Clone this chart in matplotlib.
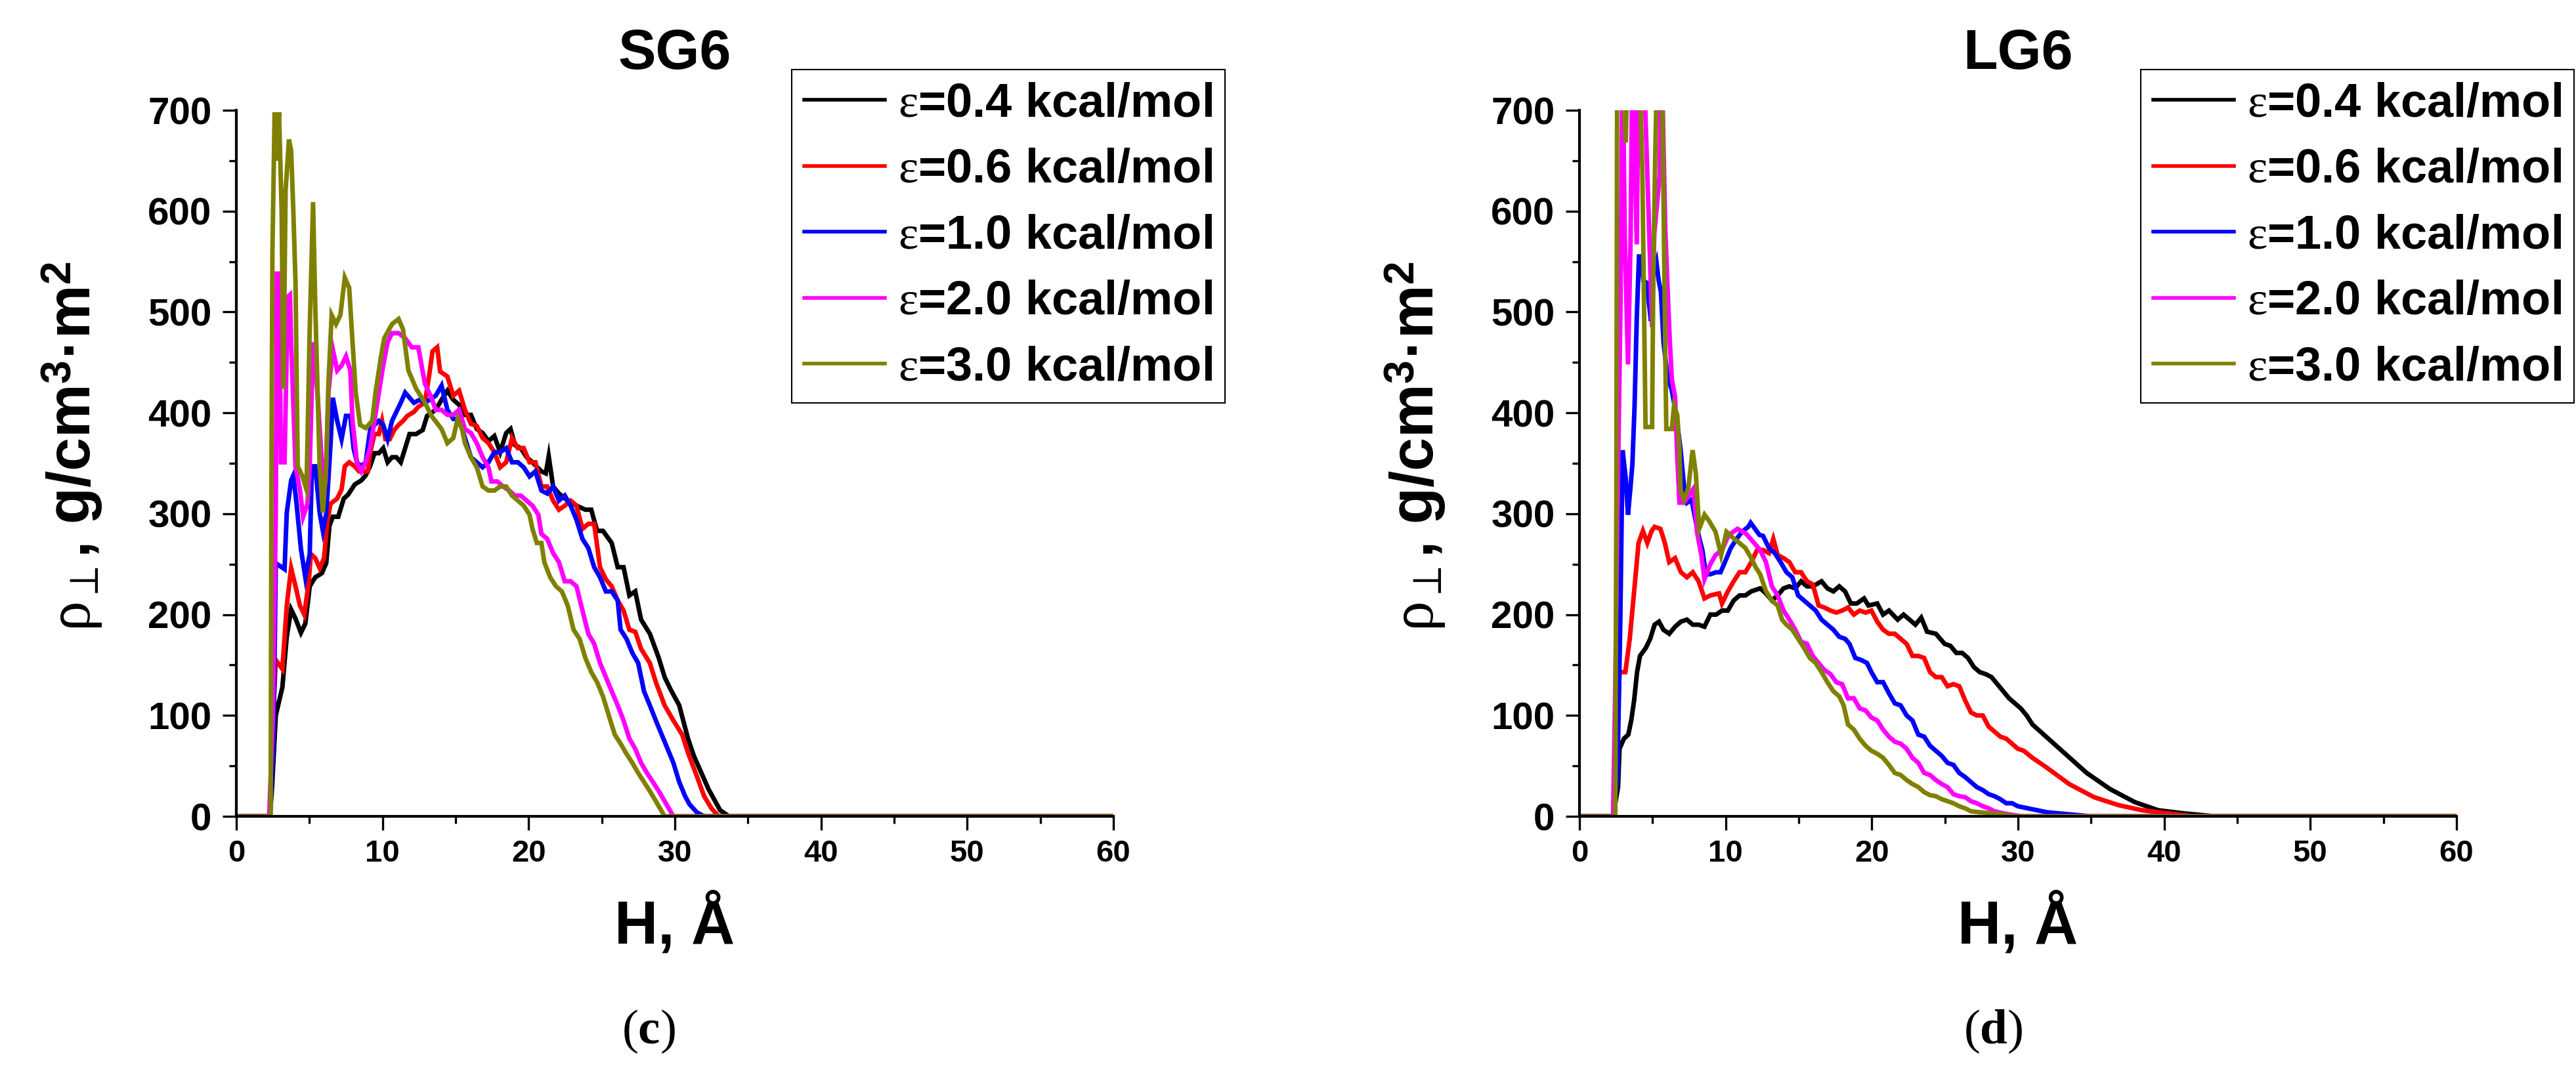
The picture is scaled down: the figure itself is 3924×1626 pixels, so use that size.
import matplotlib
matplotlib.use("Agg")
import matplotlib.pyplot as plt
from matplotlib.ticker import MultipleLocator

plt.rcParams['mathtext.fontset'] = 'custom'
plt.rcParams['mathtext.rm'] = 'Liberation Sans:bold'
plt.rcParams['mathtext.it'] = 'Liberation Serif'
plt.rcParams['mathtext.bf'] = 'Liberation Serif:bold'
plt.rcParams['font.family'] = ['Liberation Sans', 'DejaVu Sans']

# ---------------- data: SG6 (panel c) ----------------
sg6_h_04 = [0, 2.3, 2.45, 2.70, 3.15, 3.45, 3.75, 4.05, 4.42, 4.72, 5.02, 5.40, 5.85, 6.15, 6.37, 6.60, 6.97, 7.35, 7.65, 8.10,
            8.55, 8.85, 9.15, 9.45, 9.75, 10.05, 10.35, 10.65, 10.95, 11.25, 11.55, 11.85, 12.30, 12.75, 13.05, 13.64,
            14.04, 14.44, 14.84, 15.24, 15.64, 16.05, 16.45, 16.85, 17.25, 17.65, 18.05, 18.46, 18.76, 19.06, 19.46, 19.86,
            20.26, 20.87, 21.17, 21.37, 21.67, 22.07, 22.67, 23.27, 23.88, 24.28, 24.68, 25.08, 25.68, 26.09, 26.49, 26.89,
            27.29, 27.69, 28.29, 28.90, 29.30, 29.70, 30.30, 30.90, 31.3, 32.3, 33.1, 33.7, 60]
sg6_v_04 = [0, 0, 30, 100, 128, 178, 205, 196, 182, 191, 228, 237, 241, 251, 288, 297, 297, 315, 319, 329,
            333, 338, 347, 360, 360, 365, 351, 356, 356, 351, 365, 379, 379, 383, 397, 403,
            413, 422, 413, 408, 398, 398, 384, 380, 372, 377, 361, 380, 384, 368, 365, 356,
            351, 342, 340, 357, 327, 320, 313, 308, 304, 304, 283, 283, 271, 247, 247, 219,
            223, 195, 181, 157, 138, 126, 110, 77, 60, 27, 6, 0, 0]

sg6_h_06 = [0, 2.3, 2.40, 2.55, 2.70, 3.15, 3.45, 3.75, 4.05, 4.35, 4.65, 4.95, 5.10, 5.40, 5.70, 6.0, 6.22, 6.45, 6.90, 7.20,
            7.42, 7.72, 8.10, 8.40, 9.0, 9.15, 9.45, 9.75, 9.97, 10.20, 10.50, 10.80, 11.10, 11.40, 11.70, 12.15, 12.45,
            12.90, 13.20, 13.42, 13.74, 13.94, 14.44, 14.84,
            15.24, 15.64, 16.05, 16.45, 16.85, 17.25, 17.65, 18.05, 18.46, 18.86, 19.26, 19.66, 20.06, 20.46, 20.87, 21.27,
            21.67, 22.07, 22.47, 22.87, 23.27, 23.68, 24.08, 24.48, 24.88, 25.28, 25.68, 26.09, 26.49, 26.89, 27.29, 27.69,
            28.29, 28.70, 29.30, 29.90, 30.50, 30.90, 31.5, 32.0, 32.5, 33.0, 60]
sg6_v_06 = [0, 0, 40, 110, 155, 146, 209, 246, 228, 209, 200, 232, 260, 256, 246, 256, 292, 310, 315, 324,
            347, 351, 347, 342, 342, 360, 379, 379, 392, 374, 374, 383, 388, 392, 397, 401, 406,
            410, 438, 461, 465, 441, 436, 417,
            422, 403, 389, 387, 375, 370, 361, 346, 351, 375, 365, 365, 351, 351, 327, 327,
            313, 304, 308, 313, 308, 285, 290, 290, 247, 235, 228, 214, 204, 185, 183, 166,
            152, 133, 110, 95, 81, 63, 40, 20, 8, 0, 0]

sg6_h_10 = [0, 2.3, 2.55, 2.70, 3.30, 3.45, 3.75, 3.90, 4.12, 4.42, 4.72, 5.02, 5.17, 5.40, 5.70, 5.92, 6.15, 6.45, 6.60, 6.90,
            7.20, 7.50, 7.80, 8.02, 8.25, 8.55, 8.85, 9.15, 9.45, 9.75, 10.05, 10.35, 10.65, 10.95, 11.25, 11.55, 11.85,
            12.15, 12.55, 12.90, 13.23,
            13.64, 14.04, 14.44, 14.84, 15.24, 15.64, 16.05, 16.45, 16.85, 17.25, 17.65, 18.05, 18.46, 18.86, 19.26, 19.66,
            20.06, 20.46, 20.87, 21.27, 21.67, 22.07, 22.47, 22.87, 23.27, 23.68, 24.08, 24.48, 24.88, 25.28, 25.68, 26.09,
            26.29, 26.69, 27.09, 27.49, 27.89, 28.29, 28.70, 29.10, 29.50, 29.90, 30.30, 30.70, 31.0, 31.5, 32.0, 60]
sg6_v_10 = [0, 0, 80, 251, 245, 301, 333, 338, 310, 265, 237, 260, 347, 347, 301, 283, 300, 370, 415, 392,
            374, 397, 397, 365, 351, 347, 351, 383, 388, 392, 388, 374, 392, 401, 410, 420, 415,
            410, 413, 410, 413,
            417, 427, 403, 394, 394, 375, 356, 351, 346, 351, 361, 361, 365, 351, 351, 346,
            337, 342, 323, 320, 327, 313, 318, 308, 294, 275, 266, 247, 237, 223, 223, 214,
            185, 176, 162, 152, 124, 110, 95, 81, 67, 53, 34, 20, 12, 4, 0, 0]

sg6_h_20 = [0, 2.25, 2.5, 2.70, 2.77, 2.92, 3.05, 3.30, 3.52, 3.67, 3.75, 4.05, 4.35, 4.57, 4.87, 5.02, 5.25, 5.55, 5.85, 6.1,
            6.30, 6.60, 6.90, 7.20, 7.50, 7.80, 7.95, 8.25, 8.55, 8.85, 9.15, 9.45, 9.75, 10.05, 10.35, 10.65, 11.10, 11.55,
            12.00, 12.45, 12.90, 13.35,
            13.64, 14.04, 14.44, 14.84, 15.24, 15.64, 16.05, 16.45, 16.85, 17.25,
            17.45, 17.85, 18.25, 18.66, 19.06, 19.46, 19.86, 20.26, 20.66, 20.87, 21.27, 21.67, 22.07, 22.47, 22.87, 23.27,
            23.68, 24.08, 24.48, 24.88, 25.28, 25.68, 26.09, 26.49, 26.89, 27.29, 27.69, 28.09, 28.50, 28.90, 29.30, 29.70,
            29.90, 60]
sg6_v_20 = [0, 0, 100, 300, 538, 538, 351, 351, 515, 517, 470, 347, 324, 297, 310, 347, 470, 420, 350, 330,
            420, 463, 442, 447, 456, 442, 392, 351, 342, 351, 365, 392, 420, 447, 470, 479, 479, 474,
            465, 465, 429, 415,
            403, 403, 398, 398, 403, 384, 380, 370, 356, 346,
            332, 332, 327, 323, 318, 318, 313, 308, 299, 280, 275, 261, 252, 233, 233, 228,
            204, 181, 171, 152, 138, 124, 110, 95, 77, 67, 53, 43, 34, 25, 15, 5,
            0, 0]

sg6_h_30 = [0, 2.35, 2.40, 2.47, 2.62, 2.80, 2.92, 3.10, 3.22, 3.37, 3.60, 3.75, 3.90, 4.05, 4.20, 4.50, 4.80, 5.02, 5.25, 5.40,
            5.70, 5.92, 6.15, 6.30, 6.52, 6.82, 7.12, 7.42, 7.72, 7.95, 8.17, 8.47, 8.85, 9.30, 9.52, 9.90, 10.12, 10.65,
            11.10, 11.40, 11.77, 12.30, 12.90, 13.35, 14.04, 14.44, 14.84, 15.14, 15.44, 15.64,
            16.05, 16.45, 16.85, 17.25, 17.65, 18.05, 18.46, 18.86, 19.26, 19.66, 20.06, 20.26, 20.56, 20.87, 21.07, 21.47,
            21.87, 22.27, 22.67, 23.07, 23.48, 23.88, 24.28, 24.68, 25.08, 25.48, 25.89, 26.29, 26.69, 27.09, 27.49, 27.89,
            28.29, 28.70, 29.10, 29.30, 60]
sg6_v_30 = [0, 0, 324, 561, 698, 650, 698, 600, 424, 620, 671, 660, 600, 529, 347, 338, 324, 483, 609, 506,
            347, 301, 347, 429, 497, 488, 497, 534, 524, 470, 420, 388, 385, 392, 420, 456, 474, 488,
            493, 483, 442, 424, 410, 397, 384, 370, 375, 394, 384, 370,
            356, 346, 327, 323, 323, 327, 327, 318, 313, 308, 299, 285, 271, 271, 252, 237,
            228, 223, 209, 185, 176, 157, 143, 133, 119, 100, 81, 72, 62, 53, 43, 34,
            25, 15, 5, 0, 0]

# ---------------- data: LG6 (panel d) ----------------
lg6_h_04 = [0, 2.3, 2.64, 2.74, 3.04, 3.34, 3.54, 3.74, 3.94, 4.14, 4.54, 4.84, 5.14, 5.44, 5.74, 6.14, 6.54, 6.94, 7.35, 7.75,
            8.15, 8.55, 8.95, 9.35, 9.75, 10.15, 10.55, 10.95, 11.35, 11.75, 12.36, 12.76, 13.16, 13.56, 13.96, 14.36, 14.76,
            15.16, 15.56, 15.96, 16.56, 16.96, 17.37, 17.77, 18.17, 18.57, 18.97, 19.47, 19.77, 20.37, 20.77, 21.17, 21.77,
            22.17, 22.58, 22.98, 23.38, 23.78, 24.38, 24.98, 25.38, 25.78, 26.18, 26.58, 26.98, 27.38, 27.79, 28.19, 28.59,
            28.99, 29.39, 29.79, 30.19, 30.59, 30.99, 33.0, 34.7, 36.3, 38.0, 39.6, 41.3, 43.5, 60]
lg6_v_04 = [0, 0, 29, 67, 77, 81, 95, 115, 143, 159, 167, 176, 190, 193, 185, 181, 188, 193, 195, 190,
            190, 188, 200, 200, 204, 204, 214, 219, 219, 223, 226, 221, 214, 219, 226, 228, 226,
            233, 228, 228, 233, 226, 223, 228, 223, 211, 211, 216, 209, 211, 200, 204, 195,
            200, 195, 190, 197, 183, 181, 171, 169, 162, 162, 157, 148, 143, 141, 138, 131,
            124, 117, 112, 107, 100, 91, 65, 43, 27, 14, 6, 3, 0, 0]

lg6_h_06 = [0, 2.3, 2.54, 2.74, 3.14, 3.44, 3.74, 4.04, 4.34, 4.64, 4.94, 5.14, 5.54, 5.84, 6.14, 6.54, 6.94, 7.35, 7.75, 8.15,
            8.55, 8.95, 9.55, 9.75, 10.15, 10.55, 10.95, 11.35, 11.75, 12.15, 12.56, 12.96, 13.26, 13.56, 13.96, 14.36, 14.76,
            15.16, 15.56, 15.96, 16.36, 16.76, 17.17, 17.57, 17.97, 18.37, 18.77, 19.17, 19.57, 19.97, 20.37, 20.77, 21.17,
            21.57, 21.97, 22.38, 22.78, 23.18, 23.58, 23.98, 24.38, 24.78, 25.18, 25.58, 25.98, 26.38, 26.78, 27.18, 27.59,
            27.99, 28.39, 28.79, 29.19, 29.59, 29.99, 30.39, 30.99, 31.9, 33.5, 35.2, 36.9, 38.5, 40.2, 42.0, 60]
lg6_v_06 = [0, 0, 60, 143, 143, 176, 223, 271, 283, 271, 283, 287, 285, 271, 252, 256, 242, 237, 242, 233,
            216, 219, 221, 211, 223, 233, 242, 242, 252, 264, 264, 261, 275, 259, 256, 252, 242,
            242, 233, 230, 209, 207, 204, 202, 204, 207, 200, 204, 202, 204, 193, 185, 181,
            181, 176, 171, 159, 159, 157, 143, 138, 138, 129, 131, 129, 115, 103, 100, 100,
            89, 84, 79, 77, 72, 67, 65, 58, 49, 32, 19, 11, 6, 3, 0, 0]

lg6_h_10 = [0, 2.3, 2.6, 2.8, 2.95, 3.17, 3.32, 3.47, 3.62, 3.77, 3.92, 4.07, 4.22, 4.37, 4.60, 4.75, 4.89, 5.05, 5.27, 5.42,
            5.57, 5.75, 6.02, 6.32, 6.62, 6.92, 7.14, 7.37, 7.67, 7.89, 8.19, 8.41, 8.65, 8.95, 9.35, 9.65, 9.95, 10.35,
            10.75, 11.11, 11.55, 11.71, 12.31, 12.56, 12.96, 13.36, 13.76, 14.16, 14.56, 14.96, 15.36, 15.76, 16.16, 16.56,
            16.96, 17.37,
            17.77, 18.17, 18.47, 18.87, 19.27, 19.67, 19.97, 20.37, 20.77, 21.17, 21.57, 21.97, 22.38, 22.78, 23.18, 23.58,
            23.98, 24.38, 24.78, 25.18, 25.58, 25.98, 26.38, 26.78, 27.18, 27.59, 27.99, 28.39, 28.79, 29.19, 29.59, 29.99,
            30.99, 32.0, 33.5, 35.0, 60]
lg6_v_10 = [0, 0, 40, 200, 363, 334, 299, 323, 349, 407, 494, 555, 555, 531, 529, 509, 491, 537, 549, 531,
            520, 470, 436, 422, 398, 363, 329, 311, 314, 297, 276, 264, 240, 240, 242, 242, 252, 266,
            275, 282, 287, 291, 279, 278, 266, 261, 252, 242, 237, 219, 214, 209, 204, 195,
            190, 185,
            178, 176, 171, 157, 155, 152, 143, 133, 133, 122, 112, 110, 100, 95, 81, 79,
            70, 65, 60, 53, 51, 43, 39, 34, 29, 26, 22, 20, 17, 13, 13, 10,
            7, 4, 2, 0, 0]

lg6_h_20 = [0, 2.3, 2.45, 2.6, 2.80, 2.95, 3.10, 3.32, 3.50, 3.62, 3.92, 4.05, 4.37, 4.67, 4.97, 5.12, 5.49, 5.57, 5.70, 5.87,
            6.02, 6.17, 6.32, 6.54, 6.69, 6.84, 7.14, 7.44, 7.81, 8.04, 8.34, 8.55, 8.95, 9.31, 9.75, 10.21, 10.81, 11.41,
            12.01, 12.36, 12.76, 13.16, 13.56, 13.96, 14.36, 14.76, 15.16, 15.56, 15.96, 16.36,
            16.76, 17.17, 17.57, 17.97, 18.37, 18.77, 19.17, 19.57, 19.97, 20.37, 20.77, 21.17, 21.57, 21.97, 22.38, 22.78,
            23.18, 23.58, 23.98, 24.38, 24.78, 25.18, 25.58, 25.98, 26.38, 26.78, 27.18, 27.59, 27.99, 28.39, 28.99, 29.79,
            30.39, 60]
lg6_v_20 = [0, 0, 130, 300, 500, 760, 575, 448, 575, 760, 567, 760, 760, 625, 485, 578, 636, 760, 700, 581,
            526, 474, 433, 416, 357, 311, 311, 317, 325, 282, 259, 235, 250, 259, 264, 279, 285, 280,
            270, 264, 252, 228, 219, 204, 195, 185, 173, 171, 159, 152,
            145, 141, 133, 131, 117, 117, 107, 105, 98, 95, 86, 79, 74, 72, 67, 58,
            53, 43, 41, 36, 32, 29, 22, 20, 19, 15, 13, 10, 8, 5, 3, 1,
            0, 0]

lg6_h_30 = [0, 2.45, 2.52, 2.58, 2.90, 3.17, 3.30, 4.07, 4.30, 4.52, 4.75, 4.97, 5.05, 5.19, 5.34, 5.65, 5.72, 5.87, 5.94, 6.32,
            6.47, 6.69, 6.84, 6.92, 7.14, 7.44, 7.74, 7.96, 8.19, 8.56, 8.86, 9.31, 9.69, 10.06, 10.51, 10.95, 11.35, 11.75,
            12.05, 12.36, 12.76, 13.16, 13.56, 13.86, 14.16, 14.56, 14.96, 15.36, 15.76,
            16.16, 16.56, 16.96, 17.37, 17.77, 18.07, 18.37, 18.77, 19.17, 19.57, 19.97, 20.37, 20.77, 21.17, 21.57, 21.97,
            22.38, 22.78, 23.18, 23.58, 23.98, 24.38, 24.78, 25.18, 25.58, 25.98, 26.38, 26.78, 27.38, 28.19, 28.99, 29.79,
            60]
lg6_v_30 = [0, 0, 300, 760, 760, 668, 760, 760, 642, 386, 386, 386, 537, 662, 760, 760, 650, 459, 384, 384,
            407, 398, 363, 323, 314, 325, 363, 340, 285, 299, 293, 282, 259, 282, 276, 271, 266, 256,
            247, 240, 223, 214, 209, 195, 190, 185, 176, 167, 157,
            152, 143, 133, 124, 119, 110, 91, 86, 77, 70, 65, 62, 58, 51, 43, 41,
            36, 32, 29, 24, 21, 20, 17, 15, 13, 10, 8, 5, 4, 3, 2, 0,
            0]

series_labels = [r'$\varepsilon$=0.4 kcal/mol', r'$\varepsilon$=0.6 kcal/mol', r'$\varepsilon$=1.0 kcal/mol',
                 r'$\varepsilon$=2.0 kcal/mol', r'$\varepsilon$=3.0 kcal/mol']
series_colors = ['#000000', '#ff0000', '#0000ff', '#ff00ff', '#808000']
panel_titles = ['SG6', 'LG6']
panel_letters = ['c', 'd']
x_ticks = [0, 10, 20, 30, 40, 50, 60]
y_ticks = [0, 100, 200, 300, 400, 500, 600, 700]

panels = [
    [(sg6_h_04, sg6_v_04), (sg6_h_06, sg6_v_06), (sg6_h_10, sg6_v_10), (sg6_h_20, sg6_v_20), (sg6_h_30, sg6_v_30)],
    [(lg6_h_04, lg6_v_04), (lg6_h_06, lg6_v_06), (lg6_h_10, lg6_v_10), (lg6_h_20, lg6_v_20), (lg6_h_30, lg6_v_30)],
]

W, H = 3924, 1626
fig = plt.figure(figsize=(W / 100, H / 100), dpi=100)
fig.patch.set_facecolor('white')

ax_left_px = [360, 2406]
ax_w_px = 1336
ax_top_px, ax_bot_px = 168, 1244
ylabel_x_px = [110, 2156]
legend_x_px = [1206, 3261]
letter_x_px = [988, 3036]

for i, curves in enumerate(panels):
    ax = fig.add_axes([ax_left_px[i] / W, 1 - ax_bot_px / H, ax_w_px / W, (ax_bot_px - ax_top_px) / H])
    for (hx, vy), col, lab in zip(curves, series_colors, series_labels):
        ax.plot(hx, vy, color=col, lw=5, label=lab, solid_joinstyle='miter')
    ax.set_xlim(0, 60)
    ax.set_ylim(0, 700)
    ax.set_xticks(x_ticks)
    ax.set_yticks(y_ticks)
    ax.xaxis.set_minor_locator(MultipleLocator(5))
    ax.yaxis.set_minor_locator(MultipleLocator(50))
    for s in ['top', 'right']:
        ax.spines[s].set_visible(False)
    for s in ['left', 'bottom']:
        ax.spines[s].set_linewidth(3.0)
        ax.spines[s].set_zorder(5)
    ax.tick_params(which='major', length=15, width=2.4, direction='out')
    ax.tick_params(which='minor', length=8, width=2.4, direction='out')
    ax.tick_params(axis='y', which='major', pad=12)
    ax.tick_params(axis='x', which='major', pad=10)
    for t in ax.get_yticklabels():
        t.set_fontfamily(['Liberation Sans', 'DejaVu Sans'])
        t.set_fontweight('bold')
        t.set_fontsize(42)
    for t in ax.get_xticklabels():
        t.set_fontfamily(['Liberation Sans Narrow', 'Liberation Sans', 'DejaVu Sans'])
        t.set_fontweight('bold')
        t.set_fontsize(34)

    cx = (ax_left_px[i] + ax_w_px / 2) / W
    fig.text(cx, 1 - 105 / H, panel_titles[i], ha='center', va='baseline', fontsize=62, fontweight='bold')
    fig.text(cx, 1 - 1437 / H, 'H, Å', ha='center', va='baseline', fontsize=66, fontweight='bold')
    fig.text(ylabel_x_px[i] / W, 1 - 680 / H, r'$\rho_{\perp}$, g/cm$^{3}$·m$^{2}$', rotation=90,
             ha='center', va='center', fontsize=66, fontweight='bold')
    fig.text(letter_x_px[i] / W, 1 - 1590 / H, '(' + r'$\mathbf{' + panel_letters[i] + '}$' + ')',
             ha='center', va='baseline', fontsize=54, family=['Liberation Serif', 'DejaVu Serif'])

    leg = ax.legend(loc='upper left', bbox_to_anchor=(legend_x_px[i] / W, 1 - 106 / H),
                    bbox_transform=fig.transFigure, borderaxespad=0, frameon=True, fancybox=False,
                    framealpha=1, edgecolor='black', handlelength=1.7, handletextpad=0.28,
                    labelspacing=0.45, borderpad=0.26,
                    prop={'family': ['Liberation Sans', 'DejaVu Sans'], 'weight': 'bold', 'size': 52})
    leg.get_frame().set_linewidth(1.5)
    for ln in leg.get_lines():
        ln.set_linewidth(4)

fig.savefig('out.png', dpi=100, facecolor='white')
